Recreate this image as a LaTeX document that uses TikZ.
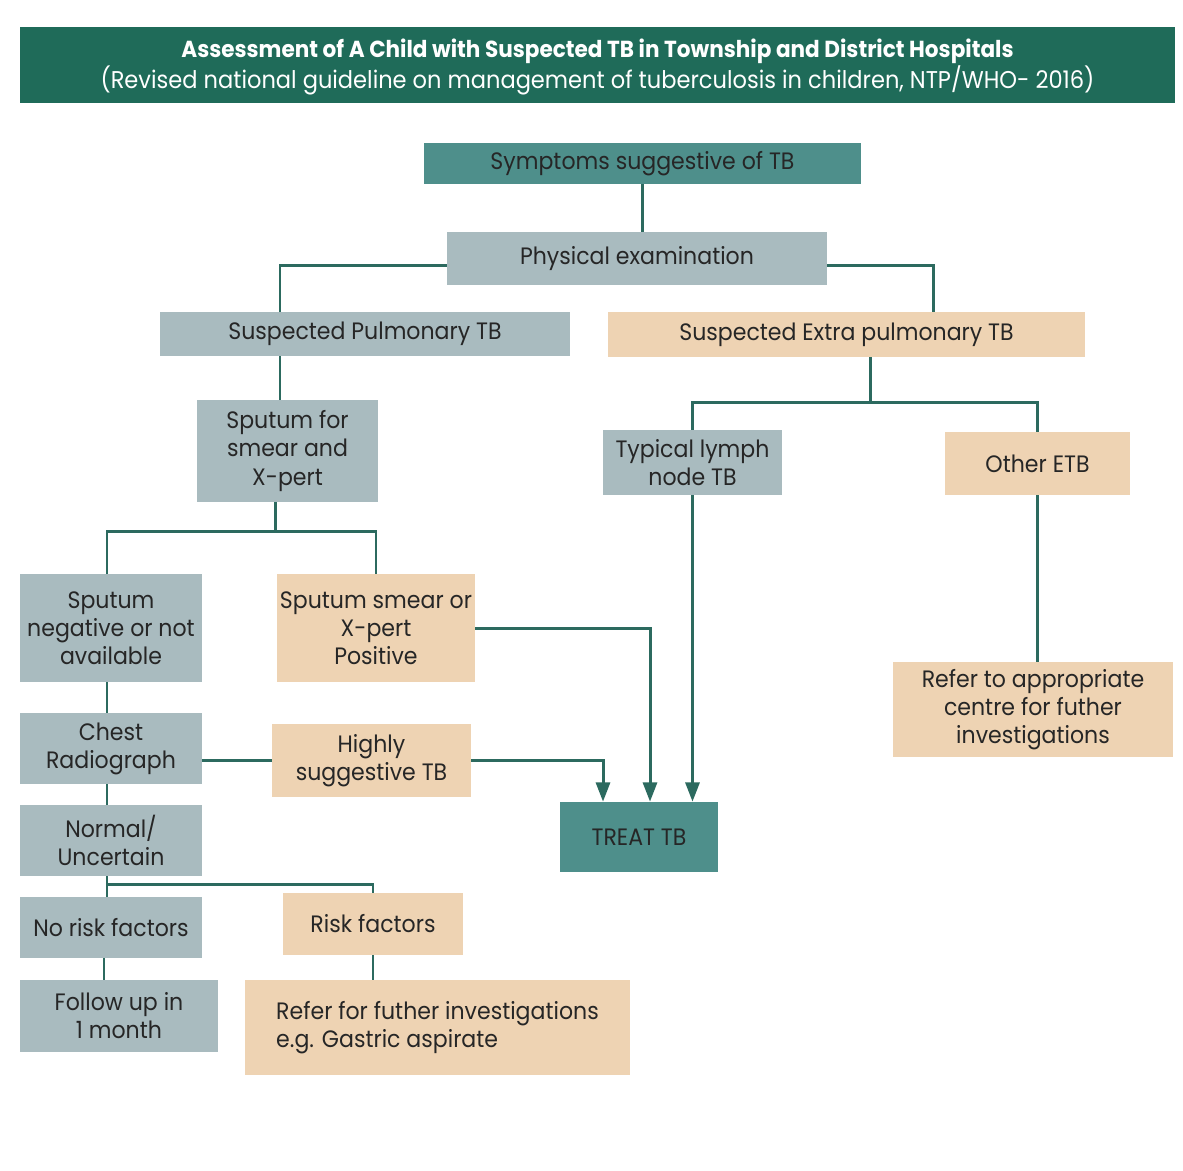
\documentclass[tikz,border=0pt]{standalone}
\usepackage{fontspec}
\setmainfont{Poppins}[FakeStretch=0.93]
\usetikzlibrary{arrows.meta,calc}
\definecolor{banner}{HTML}{1F6B59}
\definecolor{tealbox}{HTML}{4E8F8B}
\definecolor{graybox}{HTML}{A9BBBF}
\definecolor{peach}{HTML}{EED3B3}
\definecolor{linec}{HTML}{2C6A5F}
\definecolor{txt}{HTML}{262626}
\newcommand\mkbox[7]{\node[#1, minimum width={(#5-#3)*0.02cm}, minimum height={(#6-#4)*0.02cm}] (#2) at ({(#3+#5)/2},{(#4+#6)/2}) {#7};}
\tikzset{
  box/.style={draw=none, inner sep=0pt, align=center, text=txt, font=\fontsize{13.5}{16}\selectfont},
  gbox/.style={box, fill=graybox},
  tbox/.style={box, fill=tealbox},
  pbox/.style={box, fill=peach},
  titlebox/.style={draw=none, inner sep=0pt, align=center, fill=banner, text=white, font=\fontsize{13.5}{15}\selectfont},
  conn/.style={draw=linec, line width=1.7pt},
  arr/.style={conn, -{Triangle[width=8pt,length=11pt]}}
}
\begin{document}
\begin{tikzpicture}[x=0.02cm,y=-0.02cm]
\useasboundingbox[fill=white] (0,0) rectangle (1183,1170);
\path[fill=banner] (20,27) rectangle (1175,103);
\node[titlebox, fill=none] (title) at (597.5,67) {{\fontsize{13.2}{15}\selectfont\bfseries Assessment of A Child with Suspected TB in Township and District Hospitals}\\{\fontsize{13.8}{15}\selectfont(Revised national guideline on management of tuberculosis in children, NTP/WHO- 2016)}};
\mkbox{tbox}{symp}{424}{143}{861}{184}{Symptoms suggestive of TB}
\mkbox{gbox}{phys}{447}{232}{827}{285}{Physical examination}
\mkbox{gbox}{pulm}{160}{312}{570}{356}{Suspected Pulmonary TB}
\mkbox{pbox}{extra}{608}{312}{1085}{357}{Suspected Extra pulmonary TB}
\mkbox{gbox}{sput}{197}{400}{378}{502}{Sputum for\\smear and\\X-pert}
\mkbox{gbox}{lymph}{603}{430}{782}{495}{Typical lymph\\node TB}
\mkbox{pbox}{other}{945}{432}{1130}{495}{Other ETB}
\mkbox{gbox}{neg}{20}{574}{202}{682}{Sputum\\negative or not\\available}
\mkbox{pbox}{smear}{277}{574}{475}{682}{Sputum smear or\\X-pert\\Positive}
\mkbox{pbox}{refapp}{893}{662}{1173}{757}{Refer to appropriate\\centre for futher\\investigations}
\mkbox{gbox}{chest}{20}{713}{202}{784}{Chest\\Radiograph}
\mkbox{pbox}{high}{272}{724}{471}{797}{Highly\\suggestive TB}
\mkbox{tbox}{treat}{560}{802}{718}{872}{TREAT TB}
\mkbox{gbox}{normal}{20}{805}{202}{876}{Normal/\\Uncertain}
\mkbox{gbox}{norisk}{20}{897}{202}{958}{No risk factors}
\mkbox{pbox}{risk}{283}{893}{463}{955}{Risk factors}
\mkbox{gbox}{follow}{20}{980}{218}{1052}{Follow up in\\1 month}
\node[pbox, align=left, minimum width={385*0.02cm}, minimum height={95*0.02cm}] (refinv) at (437.5,1027.5) {Refer for futher investigations\\e.g. Gastric aspirate};
% connectors
\draw[conn] (symp.south) -- (symp.south |- phys.north);
\draw[conn] ($(phys.west)+(0,7)$) -| ($(pulm.north)+(-85,0)$);
\draw[conn] ($(phys.east)+(0,7)$) -| ($(extra.north)+(86.5,0)$);
\draw[conn] ($(pulm.south)+(-85,0)$) -- ($(sput.north)+(-7.5,0)$);
\draw[conn] ($(extra.south)+(23.5,0)$) -- ++(0,46);
\draw[conn] (lymph.north) -- ++(0,-27) -| (other.north);
\draw[conn] ($(sput.south)+(-12,0)$) -- ++(0,30);
\draw[conn] ($(neg.north)+(-4,0)$) -- ++(0,-42) -| (smear.north);
\draw[arr] (smear.east) -| ($(treat.north)+(11,0)$);
\draw[arr] (lymph.south) -- (lymph.south |- treat.north);
\draw[conn] (other.south) -- (other.south |- refapp.north);
\draw[conn] ($(neg.south)+(-4,0)$) -- ($(chest.north)+(-4,0)$);
\draw[conn] (high.west -| chest.east) -- (high.west);
\draw[arr] (high.east) -| ($(treat.north)+(-36,0)$);
\draw[conn] ($(chest.south)+(-4,0)$) -- ($(normal.north)+(-4,0)$);
\draw[conn] ($(normal.south)+(-4,0)$) -- ($(norisk.north)+(-4,0)$);
\draw[conn] ($(norisk.north)+(-4,-12)$) -| (risk.north);
\draw[conn] ($(norisk.south)+(-7,0)$) -- ($(norisk.south)+(-7,22)$);
\draw[conn] (risk.south) -- (risk.south |- refinv.north);
\end{tikzpicture}
\end{document}
